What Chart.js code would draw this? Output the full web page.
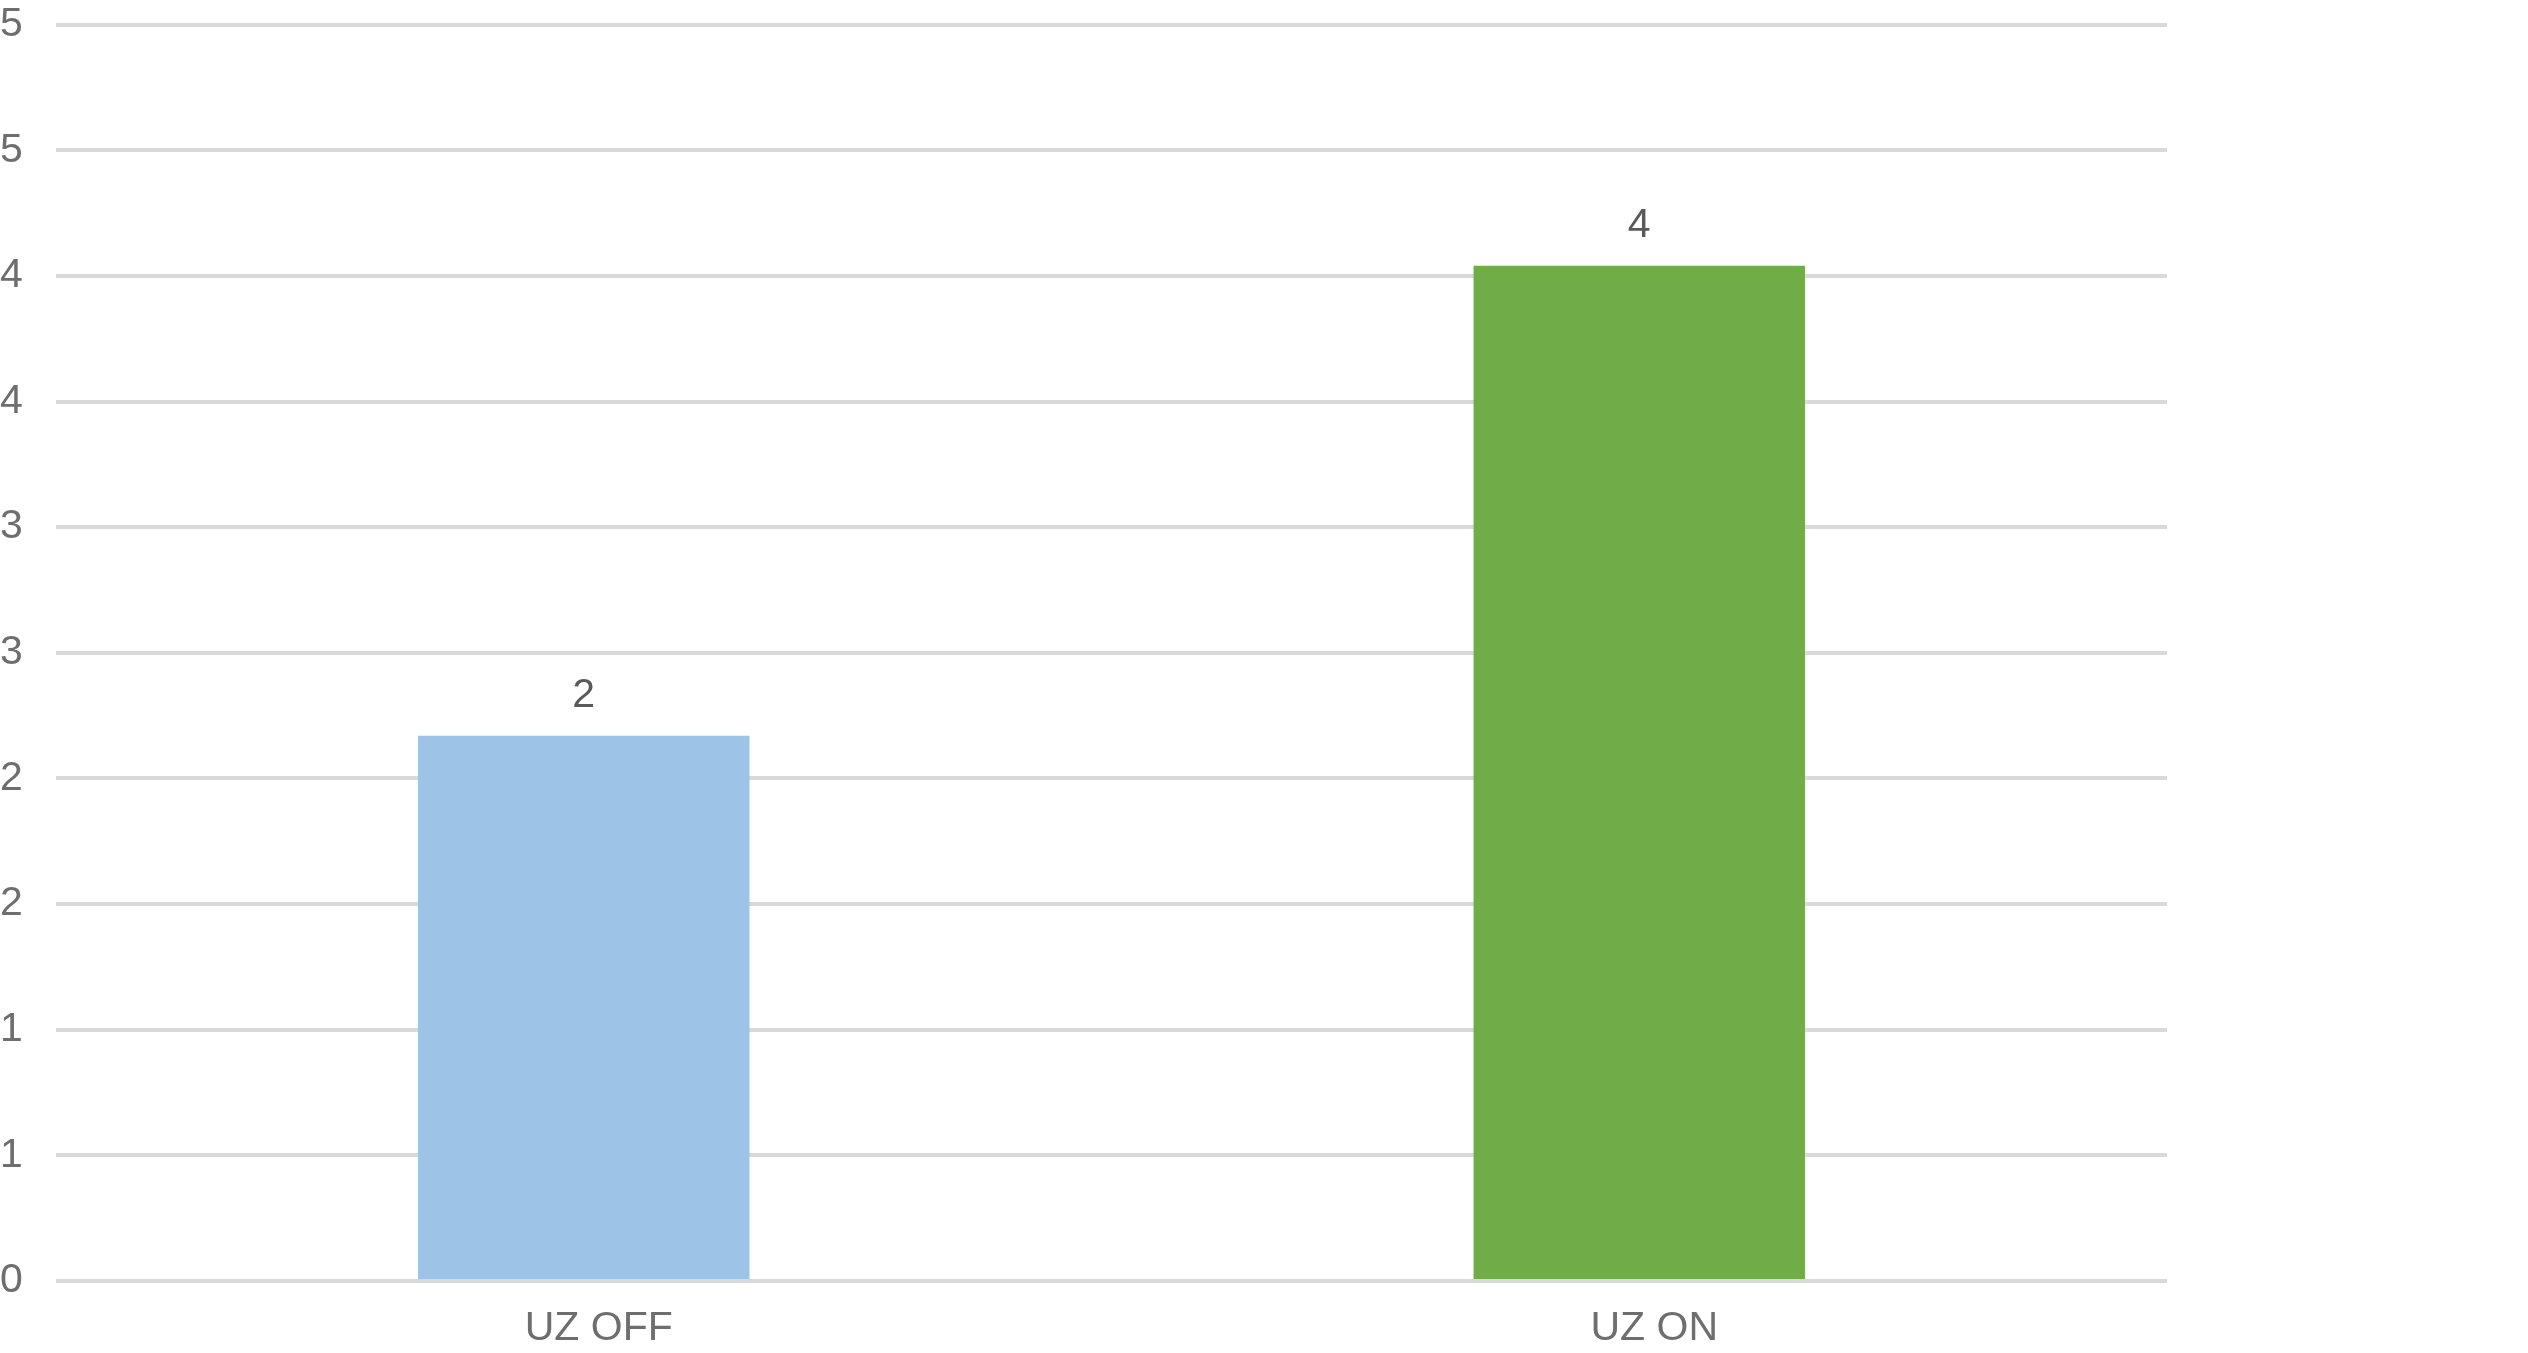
<!DOCTYPE html>
<html lang="en">
<head>
    <meta charset="UTF-8">
    <title>UZ OFF / UZ ON</title>
    <style>
        body { margin: 0; background: #fff; }
        #wrap { width: 2528px; height: 1353px; }
    </style>
</head>
<body>
    <div id="wrap">
        <canvas id="barChart" width="2528" height="1353"></canvas>
    </div>

    <script src="https://cdn.jsdelivr.net/npm/chart.js"></script>

    <script>
    // data
    const categories = ['UZ OFF', 'UZ ON'];
    const values = [2.17, 4.04];
    const barColors = ['#9DC3E6', '#70AD47'];
    const yTickLabels = ['0', '1', '1', '2', '2', '3', '3', '4', '4', '5', '5'];

    const FONT = '"Liberation Sans", Arial, sans-serif';

    // draws the rounded value above each bar
    const valueLabels = {
        id: 'valueLabels',
        afterDatasetsDraw(chart) {
            const ctx = chart.ctx;
            const meta = chart.getDatasetMeta(0);
            ctx.save();
            ctx.font = '41px ' + FONT;
            ctx.fillStyle = '#595959';
            ctx.textAlign = 'center';
            ctx.textBaseline = 'alphabetic';
            meta.data.forEach((bar, i) => {
                ctx.fillText(Math.round(values[i]).toString(), bar.x, bar.y - 29);
            });
            ctx.restore();
        }
    };

    const ctx = document.getElementById('barChart').getContext('2d');
    new Chart(ctx, {
        type: 'bar',
        data: {
            labels: categories,
            datasets: [{
                data: values,
                backgroundColor: barColors,
                borderWidth: 0,
                barPercentage: 0.314,
                categoryPercentage: 1
            }]
        },
        options: {
            responsive: false,
            animation: false,
            layout: {
                padding: { left: 0, right: 361, top: 0, bottom: 0 }
            },
            plugins: {
                legend: { display: false },
                tooltip: { enabled: false }
            },
            scales: {
                x: {
                    grid: { display: false },
                    border: { display: false },
                    ticks: {
                        color: '#6e6e6e',
                        font: { family: FONT, size: 41 },
                        padding: 15,
                        labelOffset: 15
                    },
                    afterFit: (scale) => { scale.height = 72; }
                },
                y: {
                    min: 0,
                    max: 5,
                    border: { display: false },
                    grid: {
                        color: '#d9d9d9',
                        lineWidth: 4,
                        drawTicks: false
                    },
                    ticks: {
                        stepSize: 0.5,
                        color: '#6e6e6e',
                        font: { family: FONT, size: 41 },
                        padding: 0,
                        crossAlign: 'far',
                        callback: (value, index) => yTickLabels[index]
                    },
                    afterFit: (scale) => { scale.width = 56; }
                }
            }
        },
        plugins: [valueLabels]
    });
    </script>
</body>
</html>
